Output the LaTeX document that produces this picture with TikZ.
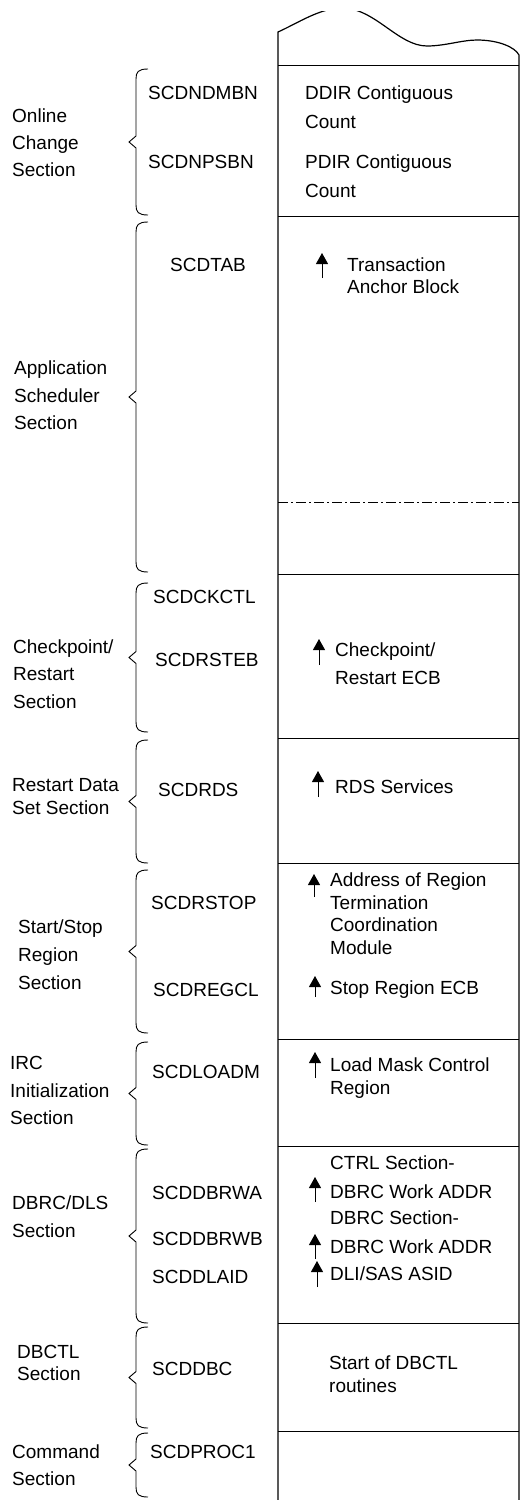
\documentclass[tikz,border=0pt]{standalone}
\usepackage{fontspec}
\setmainfont{Liberation Sans}
\usetikzlibrary{arrows.meta}
\begin{document}
\begin{tikzpicture}[x=1pt,y=-1pt,
  txt/.style={anchor=base west,inner sep=0pt,font=\fontsize{19}{22}\selectfont},
  colline/.style={line width=1.2pt},
  sepline/.style={line width=1pt},
  bracelw/.style={line width=0.9pt},
  uparrow/.style={line width=1pt,-{Triangle[width=12pt,length=11pt]}}]
\useasboundingbox (0,0) rectangle (523,1500);

% column
\begin{scope}
\clip (270,11) rectangle (523,1500);
\draw[colline] (278,1500) -- (278,32) .. controls (298,23) and (320,8) .. (342,8)
  .. controls (375,8) and (398,46) .. (427,46)
  .. controls (445,46) and (462,40) .. (477,40)
  .. controls (498,40) and (515,47) .. (519,55) -- (519,1500);
\end{scope}
\foreach \yy in {65,216,574,738,863,1039,1146,1323,1431}
  \draw[sepline] (278,\yy) -- (519,\yy);
\draw[sepline,line width=0.8pt,dash pattern=on 10pt off 3pt on 2pt off 3pt] (278,502) -- (519,502);

% braces
\foreach \t/\b in {69/215,222/572,583/732,740/863,870/1033,1042/1145,1149/1323,1327/1428,1433/1497}{
  \pgfmathsetmacro{\m}{(\t+\b)/2}
  \draw[bracelw] (148,\t) .. controls (138,\t) and (136,\t+3) .. (136,\t+10)
    -- (136,\m-6) -- (129,\m) -- (136,\m+6) -- (136,\b-10)
    .. controls (136,\b-3) and (138,\b) .. (148,\b);
}

% Online Change
\node[txt] (l1a) at (12,122) {Online};
\node[txt] (l1b) at (12,149) {Change};
\node[txt] (l1c) at (12,176) {Section};
\node[txt] (f1a) at (148,99) {SCDNDMBN};
\node[txt] (f1b) at (148,168) {SCDNPSBN};
\node[txt] (d1a) at (305,99) {DDIR Contiguous};
\node[txt] (d1b) at (305,128) {Count};
\node[txt] (d1c) at (305,168) {PDIR Contiguous};
\node[txt] (d1d) at (305,197) {Count};

% Application Scheduler
\node[txt] (l2a) at (14,374) {Application};
\node[txt] (l2b) at (14,402) {Scheduler};
\node[txt] (l2c) at (14,429) {Section};
\node[txt] (f2a) at (170,271) {SCDTAB};
\node[txt] (d2a) at (347,271) {Transaction};
\node[txt] (d2b) at (347,293) {Anchor Block};
\draw[uparrow] (322,278) -- (322,253);

% Checkpoint/Restart
\node[txt] (l3a) at (13,653) {Checkpoint/};
\node[txt] (l3b) at (13,680) {Restart};
\node[txt] (l3c) at (13,708) {Section};
\node[txt] (f3a) at (153,603) {SCDCKCTL};
\node[txt] (f3b) at (155,666) {SCDRSTEB};
\node[txt] (d3a) at (335,656) {Checkpoint/};
\node[txt] (d3b) at (335,684) {Restart ECB};
\draw[uparrow] (319,665) -- (319,639);

% Restart Data Set
\node[txt] (l4a) at (12,791) {Restart Data};
\node[txt] (l4b) at (12,814) {Set Section};
\node[txt] (f4a) at (158,796) {SCDRDS};
\node[txt] (d4a) at (335,793) {RDS Services};
\draw[uparrow] (318,797) -- (318,771);

% Start/Stop Region
\node[txt] (l5a) at (18,933) {Start/Stop};
\node[txt] (l5b) at (18,961) {Region};
\node[txt] (l5c) at (18,989) {Section};
\node[txt] (f5a) at (151,909) {SCDRSTOP};
\node[txt] (f5b) at (153,996) {SCDREGCL};
\node[txt] (d5a) at (330,886) {Address of Region};
\node[txt] (d5b) at (330,909) {Termination};
\node[txt] (d5c) at (330,931) {Coordination};
\node[txt] (d5d) at (330,954) {Module};
\node[txt] (d5e) at (330,994) {Stop Region ECB};
\draw[uparrow] (314,897) -- (314,874);
\draw[uparrow] (315,997) -- (315,976);

% IRC Initialization
\node[txt] (l6a) at (10,1069) {IRC};
\node[txt] (l6b) at (10,1097) {Initialization};
\node[txt] (l6c) at (10,1124) {Section};
\node[txt] (f6a) at (152,1078) {SCDLOADM};
\node[txt] (d6a) at (330,1071) {Load Mask Control};
\node[txt] (d6b) at (330,1094) {Region};
\draw[uparrow] (315,1078) -- (315,1052);

% DBRC/DLS
\node[txt] (l7a) at (12,1209) {DBRC/DLS};
\node[txt] (l7b) at (12,1237) {Section};
\node[txt] (f7a) at (152,1199) {SCDDBRWA};
\node[txt] (f7b) at (152,1245) {SCDDBRWB};
\node[txt] (f7c) at (152,1283) {SCDDLAID};
\node[txt] (d7a) at (330,1169) {CTRL Section-};
\node[txt] (d7b) at (330,1198) {DBRC Work ADDR};
\node[txt] (d7c) at (330,1224) {DBRC Section-};
\node[txt] (d7d) at (330,1253) {DBRC Work ADDR};
\node[txt] (d7e) at (330,1280) {DLI/SAS ASID};
\draw[uparrow] (315,1202) -- (315,1177);
\draw[uparrow] (315,1259) -- (315,1234);
\draw[uparrow] (317,1287) -- (317,1261);

% DBCTL
\node[txt] (l8a) at (17,1358) {DBCTL};
\node[txt] (l8b) at (17,1380) {Section};
\node[txt] (f8a) at (152,1375) {SCDDBC};
\node[txt] (d8a) at (329,1369) {Start of DBCTL};
\node[txt] (d8b) at (329,1392) {routines};

% Command
\node[txt] (l9a) at (12,1458) {Command};
\node[txt] (l9b) at (12,1485) {Section};
\node[txt] (f9a) at (150,1458) {SCDPROC1};
\end{tikzpicture}
\end{document}
